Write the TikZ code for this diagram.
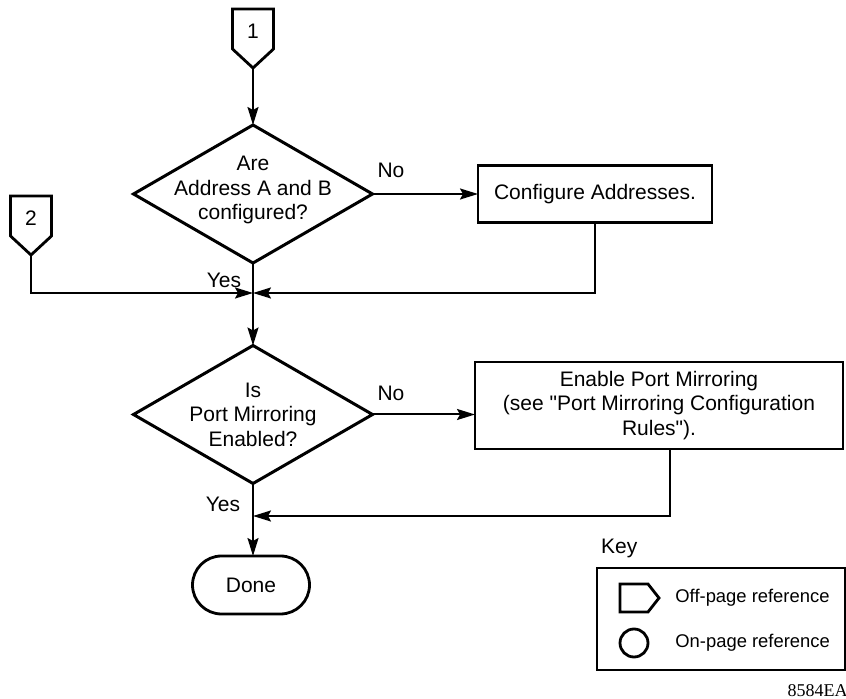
\documentclass[tikz,border=0pt]{standalone}
\usepackage{fontspec}
\setmainfont{Liberation Sans}
\newfontfamily\figidfont{Liberation Serif}
\usetikzlibrary{arrows.meta, positioning, shapes.geometric, shapes.misc}

\begin{document}
\begin{tikzpicture}[x=0.5pt, y=-0.5pt, font=\fontsize{10.5}{12.25}\selectfont,
    flowline/.style={line width=1pt},
    arr/.style={flowline, -{Stealth[length=9pt, width=5.5pt, inset=1.5pt]}},
    decision/.style={diamond, draw, line width=1.5pt, inner sep=0pt, outer sep=0pt,
                     minimum width=119.5pt, minimum height=69pt},
    process/.style={rectangle, draw, line width=1.4pt, inner sep=0pt, outer sep=0pt, align=center},
    terminal/.style={rounded rectangle, draw, line width=1.4pt, inner sep=0pt, outer sep=0pt,
                     minimum width=58.5pt, minimum height=29pt},
    offpage/.style={line width=1.4pt, line join=miter},
    keytext/.style={anchor=west, inner sep=0pt, font=\fontsize{9.2}{11}\selectfont}]
  \useasboundingbox (0,0) rectangle (846,699);
  % off-page connectors
  \foreach \n/\cx/\top in {1/253/9, 2/31/196} {
    \draw[offpage] (\cx-20.5,\top) -- (\cx+20.5,\top) -- (\cx+20.5,\top+40)
      -- (\cx,\top+59) -- (\cx-20.5,\top+40) -- cycle;
    \node (off\n) at (\cx,\top+22) {\n};
    \coordinate (tip\n) at (\cx,\top+59);}
  % flow
  \node[decision] (dec1) at (253,194) {};
  \node[align=center] (dec1txt) at ([yshift=2pt]dec1.center) {Are\\Address A and B\\configured?};
  \node[process, minimum width=117pt, minimum height=28.5pt] (cfg) at (595,194) {Configure Addresses.};
  \node[decision] (dec2) at (253,414.5) {};
  \node[align=center] (dec2txt) at (dec2.center) {Is\\Port Mirroring\\Enabled?};
  \node[process, minimum width=184pt, minimum height=43.5pt] (mirror) at (659,405.5)
    {Enable Port Mirroring\\(see \textquotedbl Port Mirroring Configuration\\Rules\textquotedbl).};
  \node[terminal] (done) at (251,585) {Done};
  \coordinate (join1) at (253,293);
  \coordinate (join2) at (253,516);
  \node (no1) at (391,170) {No};
  \node (yes1) at (224,280) {Yes};
  \node (no2) at (391,393) {No};
  \node (yes2) at (223,504) {Yes};
  \draw[arr] (tip1) -- (dec1.north);
  \draw[arr] (dec1.east) -- (cfg.west |- dec1.east);
  \draw[arr] (dec1.south) -- (dec2.north);
  \draw[arr] (tip2) |- (join1);
  \draw[arr] (cfg.south) |- (join1);
  \draw[arr] (dec2.east) -- (mirror.west |- dec2.east);
  \draw[arr] ([xshift=5.5pt]mirror.south) |- (join2);
  \draw[arr] (dec2.south) -- (dec2.south |- done.north);
  % key
  \node[anchor=west] (keytitle) at (594,548) {Key};
  \node[draw, line width=0.9pt, anchor=north west, minimum width=124pt, minimum height=51pt]
    (keybox) at (596,567) {};
  \draw[offpage] (620,584) -- (648,584) -- (659,598) -- (648,612) -- (620,612) -- cycle;
  \node[keytext] (offkey) at (675,598) {Off-page reference};
  \draw[offpage] (634,643) circle[radius=7pt];
  \node[keytext] (onkey) at (675,643) {On-page reference};
  \node[anchor=base east, inner sep=0pt, font=\figidfont\fontsize{9}{10}\selectfont] (figid) at (848,697) {8584EA};
\end{tikzpicture}
\end{document}
